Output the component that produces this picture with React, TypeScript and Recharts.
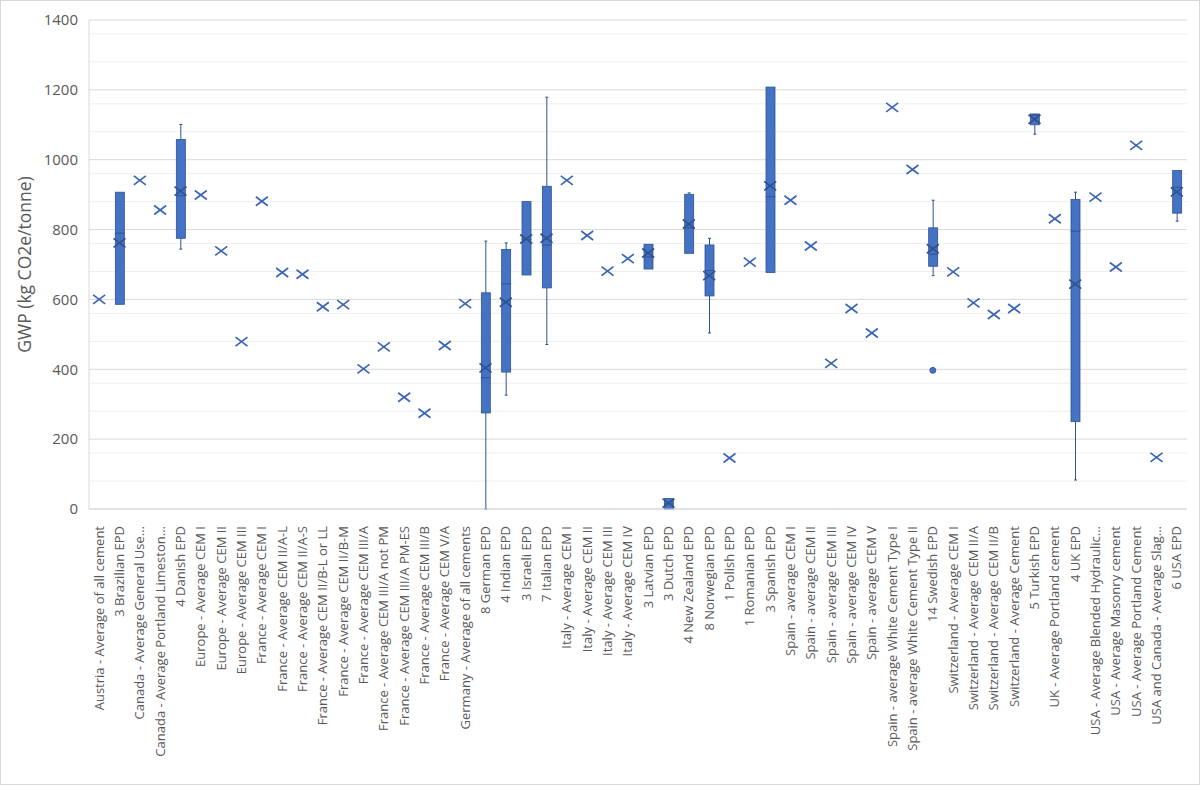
import { ComposedChart, Bar, Scatter, XAxis, YAxis, CartesianGrid } from 'recharts'

const categories = [
  'Austria - Average of all cement',
  '3 Brazilian EPD',
  'Canada - Average General Use...',
  'Canada - Average Portland Limeston...',
  '4 Danish EPD',
  'Europe - Average CEM I',
  'Europe - Average CEM II',
  'Europe - Average CEM III',
  'France - Average CEM I',
  'France - Average CEM II/A-L',
  'France - Average CEM II/A-S',
  'France - Average CEM II/B-L or LL',
  'France - Average CEM II/B-M',
  'France - Average CEM III/A',
  'France - Average CEM III/A not PM',
  'France - Average CEM III/A PM-ES',
  'France - Average CEM III/B',
  'France - Average CEM V/A',
  'Germany - Average of all cements',
  '8 German EPD',
  '4 Indian EPD',
  '3 Israeli EPD',
  '7 Italian EPD',
  'Italy - Average CEM I',
  'Italy - Average CEM II',
  'Italy - Average CEM III',
  'Italy - Average CEM IV',
  '3 Latvian EPD',
  '3 Dutch EPD',
  '4 New Zealand EPD',
  '8 Norwegian EPD',
  '1 Polish EPD',
  '1 Romanian EPD',
  '3 Spanish EPD',
  'Spain - average CEM I',
  'Spain - average CEM II',
  'Spain - average CEM III',
  'Spain - average CEM IV',
  'Spain - average CEM V',
  'Spain - average White Cement Type I',
  'Spain - average White Cement Type II',
  '14 Swedish EPD',
  'Switzerland - Average CEM I',
  'Switzerland - Average CEM II/A',
  'Switzerland - Average CEM II/B',
  'Switzerland - Average Cement',
  '5 Turkish EPD',
  'UK - Average Portland cement',
  '4 UK EPD',
  'USA - Average Blended Hydraulic...',
  'USA - Average Masonry cement',
  'USA - Average Portland Cement',
  'USA and Canada - Average Slag...',
  '6 USA EPD',
]

// null = single value, no box
const minValues = [
  null, 586, null, null, 744, null, null, null, null, null, null, null, null, null, null, null, null, null, null,
  0, 326, 670, 471, null, null, null, null, 687, 0, 732, 504, null, null, 677,
  null, null, null, null, null, null, null, 668, null, null, null, null, 1073, null, 83, null, null, null, null, 824,
]
const q1Values = [
  null, 586, null, null, 775, null, null, null, null, null, null, null, null, null, null, null, null, null, null,
  275, 392, 670, 633, null, null, null, null, 687, 0, 732, 610, null, null, 677,
  null, null, null, null, null, null, null, 695, null, null, null, null, 1100, null, 250, null, null, null, null, 847,
]
const medianValues = [
  null, 790, null, null, 897, null, null, null, null, null, null, null, null, null, null, null, null, null, null,
  376, 645, 772, 756, null, null, null, null, 722, 15, 805, 683, null, null, 894,
  null, null, null, null, null, null, null, 730, null, null, null, null, 1128, null, 796, null, null, null, null, 921,
]
const q3Values = [
  null, 907, null, null, 1058, null, null, null, null, null, null, null, null, null, null, null, null, null, null,
  619, 743, 880, 924, null, null, null, null, 758, 30, 901, 756, null, null, 1208,
  null, null, null, null, null, null, null, 805, null, null, null, null, 1131, null, 886, null, null, null, null, 969,
]
const maxValues = [
  null, 907, null, null, 1101, null, null, null, null, null, null, null, null, null, null, null, null, null, null,
  767, 762, 880, 1179, null, null, null, null, 758, 30, 905, 775, null, null, 1208,
  null, null, null, null, null, null, null, 884, null, null, null, null, 1131, null, 907, null, null, null, null, 969,
]
const meanValues = [
  600, 762, 941, 856, 910, 899, 739, 479, 881, 677, 672, 579, 585, 401, 464, 320, 274, 468, 588,
  404, 592, 773, 775, 941, 783, 681, 717, 733, 17, 816, 668, 146, 707, 925,
  884, 753, 417, 574, 504, 1150, 972, 745, 679, 590, 557, 574, 1116, 831, 644, 893, 693, 1041, 148, 908,
]
const outlierValues: Record<string, number> = { '14 Swedish EPD': 397 }

const yTicks = [0, 200, 400, 600, 800, 1000, 1200, 1400]
const minorTicks = [40, 80, 120, 160, 240, 280, 320, 360, 440, 480, 520, 560, 640, 680, 720, 760, 840, 880, 920, 960, 1040, 1080, 1120, 1160, 1240, 1280, 1320, 1360]

const data = categories.map((name, i) => {
  const mn = minValues[i]
  const hasBox = mn !== null
  return {
    name,
    hasBox,
    base: hasBox ? mn : 0,
    lowWhisker: hasBox ? (q1Values[i] as number) - mn : 0,
    boxLow: hasBox ? (medianValues[i] as number) - (q1Values[i] as number) : 0,
    boxHigh: hasBox ? (q3Values[i] as number) - (medianValues[i] as number) : 0,
    highWhisker: hasBox ? (maxValues[i] as number) - (q3Values[i] as number) : 0,
    mean: meanValues[i],
    outlier: outlierValues[name] ?? null,
  }
})

const FILL = '#4472C4'
const EDGE = '#2F528F'
const TEXT = '#595959'
const FONT = '"Open Sans", sans-serif'

const BoxShape = (props: any) => {
  const { x, y, width, height } = props
  if (!(height > 0.3)) return null
  return <rect x={x} y={y} width={width} height={height} fill={FILL} stroke={EDGE} strokeWidth={0.8} />
}

const LowWhisker = (props: any) => {
  const { x, y, width, height } = props
  if (!(height > 0.3)) return null
  const cx = x + width / 2
  return (
    <g stroke={EDGE} strokeWidth={1}>
      <line x1={cx} x2={cx} y1={y} y2={y + height} />
      <line x1={cx - 1.5} x2={cx + 1.5} y1={y + height} y2={y + height} />
    </g>
  )
}

const HighWhisker = (props: any) => {
  const { x, y, width, height } = props
  if (!(height > 0.3)) return null
  const cx = x + width / 2
  return (
    <g stroke={EDGE} strokeWidth={1}>
      <line x1={cx} x2={cx} y1={y} y2={y + height} />
      <line x1={cx - 1.5} x2={cx + 1.5} y1={y} y2={y} />
    </g>
  )
}

const MeanMark = (props: any) => {
  const { cx, cy, payload } = props
  if (cx == null || cy == null || isNaN(cy)) return null
  const s = 6
  const c = payload && payload.hasBox ? EDGE : '#3A65B5'
  return (
    <g stroke={c} strokeWidth={1.7}>
      <line x1={cx - s} y1={cy - s + 1.5} x2={cx + s} y2={cy + s - 1.5} />
      <line x1={cx - s} y1={cy + s - 1.5} x2={cx + s} y2={cy - s + 1.5} />
    </g>
  )
}

const OutlierMark = (props: any) => {
  const { cx, cy, payload } = props
  if (!payload || payload.outlier == null || cy == null || isNaN(cy)) return null
  return <circle cx={cx} cy={cy} r={3} fill={FILL} stroke={EDGE} strokeWidth={0.8} />
}

const CategoryTick = (props: any) => {
  const { x, y, payload } = props
  return (
    <text
      x={x}
      y={y + 9}
      transform={`rotate(-90, ${x}, ${y + 9})`}
      textAnchor="end"
      dy="0.35em"
      fill={TEXT}
      fontSize={13}
      fontFamily={FONT}
    >
      {payload.value}
    </text>
  )
}

export default function App() {
  return (
    <div style={{ position: 'absolute', left: 0, top: 0, width: 1200, height: 785, background: '#fff' }}>
      <ComposedChart
        width={1200}
        height={785}
        data={data}
        margin={{ top: 20, right: 13, bottom: 0, left: 0 }}
        barSize={9}
      >
        <CartesianGrid vertical={false} stroke="#EFEFEF" strokeWidth={1} horizontalValues={minorTicks} />
        <CartesianGrid vertical={false} stroke="#D9D9D9" strokeWidth={1} />
        <XAxis
          dataKey="name"
          interval={0}
          tickLine={false}
          axisLine={{ stroke: '#D9D9D9' }}
          height={276}
          tick={<CategoryTick />}
        />
        <YAxis
          type="number"
          domain={[0, 1400]}
          ticks={yTicks}
          width={89}
          tickLine={false}
          axisLine={{ stroke: '#D9D9D9' }}
          tickMargin={5}
          tick={{ fill: TEXT, fontSize: 15, fontFamily: FONT }}
          label={{
            value: 'GWP (kg CO2e/tonne)',
            angle: -90,
            position: 'insideLeft',
            offset: 25,
            style: { textAnchor: 'middle', fill: TEXT, fontSize: 17.5, fontFamily: FONT },
          }}
        />
        <Bar dataKey="base" stackId="b" fill="transparent" isAnimationActive={false} />
        <Bar dataKey="lowWhisker" stackId="b" shape={<LowWhisker />} isAnimationActive={false} />
        <Bar dataKey="boxLow" stackId="b" shape={<BoxShape />} isAnimationActive={false} />
        <Bar dataKey="boxHigh" stackId="b" shape={<BoxShape />} isAnimationActive={false} />
        <Bar dataKey="highWhisker" stackId="b" shape={<HighWhisker />} isAnimationActive={false} />
        <Scatter dataKey="mean" shape={<MeanMark />} isAnimationActive={false} />
        <Scatter dataKey="outlier" shape={<OutlierMark />} isAnimationActive={false} />
      </ComposedChart>
      <div
        style={{
          position: 'absolute',
          left: 0,
          top: 0,
          width: 1200,
          height: 785,
          boxSizing: 'border-box',
          border: '1px solid #D9D9D9',
          pointerEvents: 'none',
        }}
      />
    </div>
  )
}
